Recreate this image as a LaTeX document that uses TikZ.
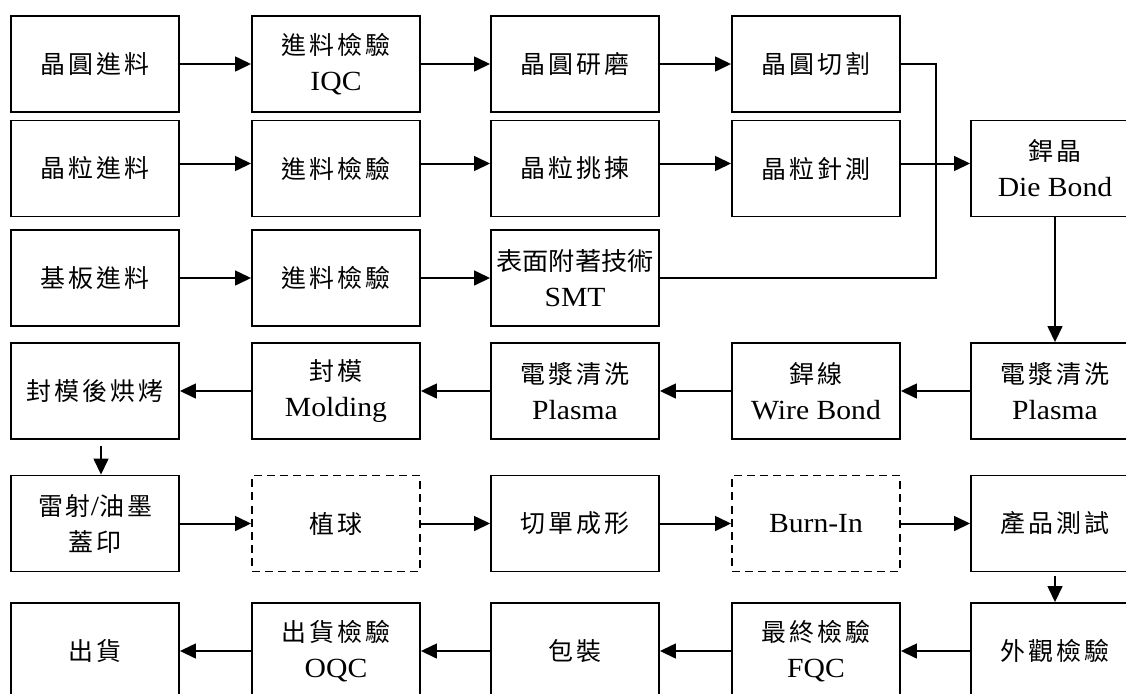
\documentclass[tikz,border=0pt]{standalone}
\usepackage{fontspec}
\setmainfont[FakeStretch=1.07]{Liberation Serif}
\newfontfamily\cjk[Scale=0.9, LetterSpace=12]{Noto Sans CJK TC}
\newfontfamily\cjknarrow[Scale=0.9, FakeStretch=1.05]{Noto Sans CJK TC}
\usetikzlibrary{arrows.meta}
\tikzset{
	procbox/.style={draw, line width=0.045cm, minimum width=4.2cm, minimum height=2.4cm, inner sep=0pt, align=center, font=\fontsize{19.7}{25.6}\selectfont},
	optbox/.style={procbox, dash pattern=on 0.2cm off 0.13cm},
	flow/.style={line width=0.05cm, -{Triangle[length=0.4cm, width=0.37cm]}},
	wire/.style={line width=0.05cm}
}

\begin{document}
\begin{tikzpicture}[x=0.025cm, y=-0.025cm]
			%%%%% START %%%%%
			\useasboundingbox (0, 0) rectangle (1126, 693);
			
			% row 1
			\node[procbox] (waferin) at (95, 64) {{\cjk 晶圓進料}};
			\node[procbox] (iqc) at (336, 64) {{\cjk 進料檢驗}\\IQC};
			\node[procbox] (grind) at (575, 64) {{\cjk 晶圓研磨}};
			\node[procbox] (saw) at (816, 64) {{\cjk 晶圓切割}};
			
			% row 2
			\node[procbox] (diein) at (95, 168.5) {{\cjk 晶粒進料}};
			\node[procbox] (dieiqc) at (336, 168.5) {{\cjk 進料檢驗}};
			\node[procbox] (sort) at (575, 168.5) {{\cjk 晶粒挑揀}};
			\node[procbox] (probe) at (816, 168.5) {{\cjk 晶粒針測}};
			\node[procbox] (diebond) at (1055, 168.5) {{\cjk 銲晶}\\Die Bond};
			
			% row 3
			\node[procbox] (subin) at (95, 278) {{\cjk 基板進料}};
			\node[procbox] (subiqc) at (336, 278) {{\cjk 進料檢驗}};
			\node[procbox] (smt) at (575, 278) {{\cjknarrow 表面附著技術}\\SMT};
			
			% row 4
			\node[procbox] (postcure) at (95, 391) {{\cjk 封模後烘烤}};
			\node[procbox] (mold) at (336, 391) {{\cjk 封模}\\Molding};
			\node[procbox] (plasmab) at (575, 391) {{\cjk 電漿清洗}\\Plasma};
			\node[procbox] (wirebond) at (816, 391) {{\cjk 銲線}\\Wire Bond};
			\node[procbox] (plasmaa) at (1055, 391) {{\cjk 電漿清洗}\\Plasma};
			
			% row 5
			\node[procbox] (mark) at (95, 523.5) {{\cjk 雷射}/{\cjk 油墨}\\{\cjk 蓋印}};
			\node[optbox] (ball) at (336, 523.5) {{\cjk 植球}};
			\node[procbox] (sing) at (575, 523.5) {{\cjk 切單成形}};
			\node[optbox] (burnin) at (816, 523.5) {Burn-In};
			\node[procbox] (test) at (1055, 523.5) {{\cjk 產品測試}};
			
			% row 6
			\node[procbox] (ship) at (95, 651) {{\cjk 出貨}};
			\node[procbox] (oqc) at (336, 651) {{\cjk 出貨檢驗}\\OQC};
			\node[procbox] (pack) at (575, 651) {{\cjk 包裝}};
			\node[procbox] (fqc) at (816, 651) {{\cjk 最終檢驗}\\FQC};
			\node[procbox] (visual) at (1055, 651) {{\cjk 外觀檢驗}};
			
			\coordinate (jtop) at (936, 64);
			\coordinate (jbot) at (936, 278);
			
			\draw[flow] (waferin) -- (iqc);
			\draw[flow] (iqc) -- (grind);
			\draw[flow] (grind) -- (saw);
			\draw[wire] (saw.east) -- (jtop) -- (jbot) -- (smt.east);
			
			\draw[flow] ([yshift=0.125cm]diein.east) -- ([yshift=0.125cm]dieiqc.west);
			\draw[flow] ([yshift=0.125cm]dieiqc.east) -- ([yshift=0.125cm]sort.west);
			\draw[flow] ([yshift=0.125cm]sort.east) -- ([yshift=0.125cm]probe.west);
			\draw[flow] ([yshift=0.125cm]probe.east) -- ([yshift=0.125cm]diebond.west);
			
			\draw[flow] (subin) -- (subiqc);
			\draw[flow] (subiqc) -- (smt);
			
			\draw[flow] (diebond) -- (plasmaa);
			\draw[flow] (plasmaa) -- (wirebond);
			\draw[flow] (wirebond) -- (plasmab);
			\draw[flow] (plasmab) -- (mold);
			\draw[flow] (mold) -- (postcure);
			
			\draw[flow, shorten <=0.15cm] ([xshift=0.15cm]postcure.south) -- ([xshift=0.15cm]mark.north);
			\draw[flow] (mark) -- (ball);
			\draw[flow] (ball) -- (sing);
			\draw[flow] (sing) -- (burnin);
			\draw[flow] (burnin) -- (test);
			
			\draw[flow, shorten <=0.1cm] (test) -- (visual);
			\draw[flow] (visual) -- (fqc);
			\draw[flow] (fqc) -- (pack);
			\draw[flow] (pack) -- (oqc);
			\draw[flow] (oqc) -- (ship);
			
			%%%%% END %%%%%
		\end{tikzpicture}
\end{document}
